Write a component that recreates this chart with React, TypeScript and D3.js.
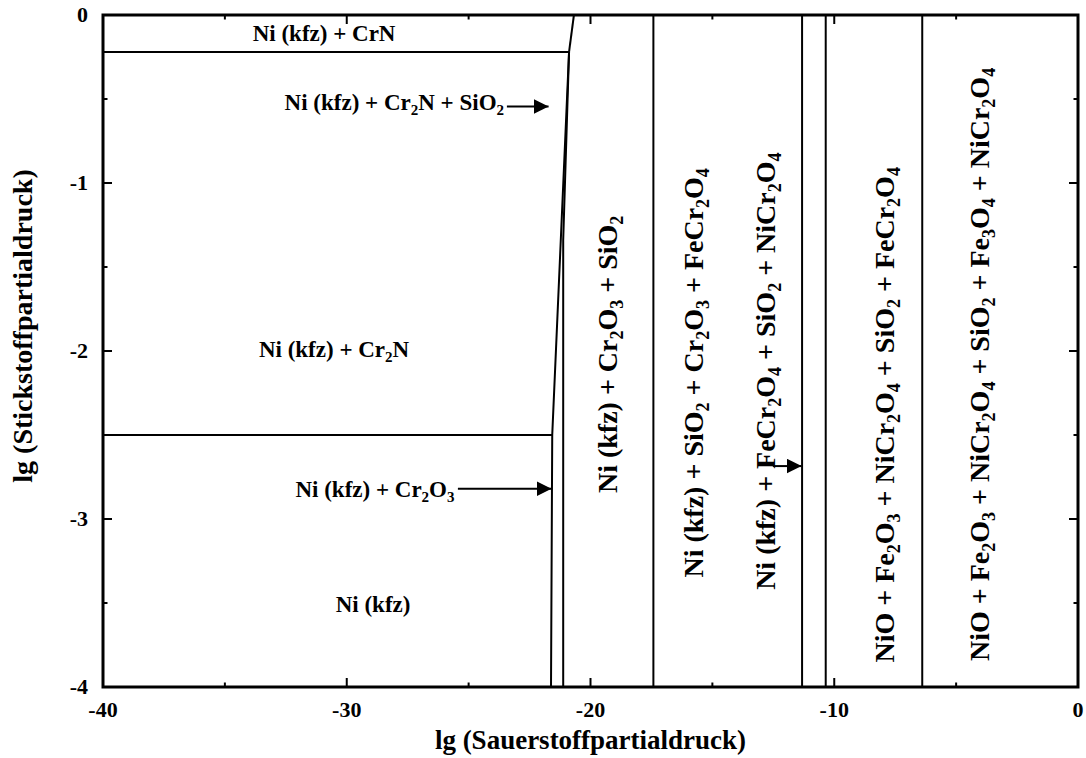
import React from "react";
import * as d3 from "d3";

const W = 1086;
const H = 758;

// Axes
const xDomain: [number, number] = [-40, 0];
const yDomain: [number, number] = [-4, 0];
const xMajorTicks = [-40, -30, -20, -10, 0];
const xMinorTicks = [-35, -25, -15, -5];
const yMajorTicks = [0, -1, -2, -3, -4];
const yMinorTicks = [-0.5, -1.5, -2.5, -3.5];

// Phase boundaries (lg pO2, lg pN2)
const boundaryTop: [number, number][] = [[-20.68, 0], [-20.88, -0.22]];
const boundaryCrN: [number, number][] = [[-40, -0.22], [-20.88, -0.22]];
const boundaryLeft: [number, number][] = [[-20.88, -0.22], [-21.57, -2.5], [-21.62, -4]];
const boundaryRight: [number, number][] = [[-20.88, -0.22], [-21.12, -1.34], [-21.12, -4]];
const boundaryCr2O3: [number, number][] = [[-40, -2.5], [-21.57, -2.5]];
const verticalBoundaries = [-17.42, -11.32, -10.35, -6.39];

// Region labels (text with _n for subscripts), positions in data units
const horizLabels = [
  { text: "Ni (kfz) + CrN", x: -30.93, y: -0.155, anchor: "middle" },
  { text: "Ni (kfz) + Cr_2N + SiO_2", x: -32.55, y: -0.565, anchor: "start" },
  { text: "Ni (kfz) + Cr_2N", x: -30.52, y: -2.036, anchor: "middle" },
  { text: "Ni (kfz) + Cr_2O_3", x: -25.58, y: -2.87, anchor: "end" },
  { text: "Ni (kfz)", x: -28.92, y: -3.554, anchor: "middle" },
];
const vertLabels = [
  { text: "Ni (kfz) + Cr_2O_3 + SiO_2", x: -19.33, y: -2.02 },
  { text: "Ni (kfz) + SiO_2 + Cr_2O_3 + FeCr_2O_4", x: -15.8, y: -2.13 },
  { text: "Ni (kfz) + FeCr_2O_4 + SiO_2 + NiCr_2O_4", x: -12.85, y: -2.12 },
  { text: "NiO + Fe_2O_3 + NiCr_2O_4 + SiO_2 + FeCr_2O_4", x: -7.95, y: -2.38 },
  { text: "NiO + Fe_2O_3 + NiCr_2O_4 + SiO_2 + Fe_3O_4 + NiCr_2O_4", x: -4.05, y: -2.08 },
];
const arrows = [
  { x1: -23.43, x2: -21.72, y: -0.545 },
  { x1: -25.44, x2: -21.6, y: -2.82 },
  { x1: -12.52, x2: -11.34, y: -2.685 },
];

const FONT = "Liberation Serif, Tinos, DejaVu Serif, serif";

function rich(str: string, size: number) {
  const parts = str.split(/_(\d)/);
  const out: React.ReactNode[] = [];
  const sub = Math.round(size * 0.65);
  const shift = Math.round(size * 0.22);
  parts.forEach((p, i) => {
    if (i % 2 === 1) {
      out.push(
        <tspan key={i} fontSize={sub} dy={shift}>
          {p}
        </tspan>
      );
    } else if (p.length) {
      out.push(
        <tspan key={i} dy={i === 0 ? 0 : -shift}>
          {p}
        </tspan>
      );
    }
  });
  return out;
}

export default function App() {
  const x = d3.scaleLinear().domain(xDomain).range([103, 1078]);
  const y = d3.scaleLinear().domain(yDomain).range([687, 15]);
  const line = d3
    .line<[number, number]>()
    .x((d) => x(d[0]))
    .y((d) => y(d[1]));

  const boundaries = [boundaryTop, boundaryCrN, boundaryLeft, boundaryRight, boundaryCr2O3];
  const x0 = x(xDomain[0]);
  const x1 = x(xDomain[1]);
  const y0 = y(yDomain[0]);
  const y1 = y(yDomain[1]);
  const major = 9;
  const minor = 4.5;
  const labelSize = 23;
  const vSize = 28;
  const textStyle = { fontFamily: FONT, fontWeight: 700 } as React.CSSProperties;

  return (
    <svg
      width={W}
      height={H}
      style={{ position: "absolute", left: 0, top: 0, background: "#fff" }}
    >
      <defs>
        <marker
          id="arrow"
          markerUnits="userSpaceOnUse"
          markerWidth={16}
          markerHeight={16}
          refX={15}
          refY={7.5}
          orient="auto"
        >
          <path d="M0,0 L15,7.5 L0,15 Z" fill="#000" />
        </marker>
      </defs>

      {/* boundaries */}
      {boundaries.map((b, i) => (
        <path key={i} d={line(b) || ""} fill="none" stroke="#000" strokeWidth={2} />
      ))}
      {verticalBoundaries.map((v, i) => (
        <line key={i} x1={x(v)} x2={x(v)} y1={y0} y2={y1} stroke="#000" strokeWidth={2} />
      ))}

      {/* arrows */}
      {arrows.map((a, i) => (
        <line
          key={i}
          x1={x(a.x1)}
          x2={x(a.x2)}
          y1={y(a.y)}
          y2={y(a.y)}
          stroke="#000"
          strokeWidth={2}
          markerEnd="url(#arrow)"
        />
      ))}

      {/* ticks */}
      {xMajorTicks.map((t) => (
        <g key={"xm" + t}>
          <line x1={x(t)} x2={x(t)} y1={y0} y2={y0 - major} stroke="#000" strokeWidth={2} />
          <line x1={x(t)} x2={x(t)} y1={y1} y2={y1 + major} stroke="#000" strokeWidth={2} />
          <text x={x(t)} y={y0 + 30} textAnchor="middle" fontSize={22} style={textStyle}>
            {t}
          </text>
        </g>
      ))}
      {xMinorTicks.map((t) => (
        <g key={"xn" + t}>
          <line x1={x(t)} x2={x(t)} y1={y0} y2={y0 - minor} stroke="#000" strokeWidth={2} />
          <line x1={x(t)} x2={x(t)} y1={y1} y2={y1 + minor} stroke="#000" strokeWidth={2} />
        </g>
      ))}
      {yMajorTicks.map((t) => (
        <g key={"ym" + t}>
          <line x1={x0} x2={x0 + major} y1={y(t)} y2={y(t)} stroke="#000" strokeWidth={2} />
          <line x1={x1} x2={x1 - major} y1={y(t)} y2={y(t)} stroke="#000" strokeWidth={2} />
          <text x={88} y={y(t) + 7} textAnchor="end" fontSize={22} style={textStyle}>
            {t}
          </text>
        </g>
      ))}
      {yMinorTicks.map((t) => (
        <g key={"yn" + t}>
          <line x1={x0} x2={x0 + minor} y1={y(t)} y2={y(t)} stroke="#000" strokeWidth={2} />
          <line x1={x1} x2={x1 - minor} y1={y(t)} y2={y(t)} stroke="#000" strokeWidth={2} />
        </g>
      ))}

      {/* frame */}
      <rect x={x0} y={y1} width={x1 - x0} height={y0 - y1} fill="none" stroke="#000" strokeWidth={3} />

      {/* region labels */}
      {horizLabels.map((l, i) => (
        <text key={i} x={x(l.x)} y={y(l.y)} textAnchor={l.anchor as any} fontSize={labelSize} style={textStyle}>
          {rich(l.text, labelSize)}
        </text>
      ))}
      {vertLabels.map((l, i) => (
        <text
          key={i}
          transform={`translate(${x(l.x) + 10},${y(l.y)}) rotate(-90)`}
          textAnchor="middle"
          fontSize={vSize}
          style={textStyle}
        >
          {rich(l.text, vSize)}
        </text>
      ))}

      {/* axis titles */}
      <text x={(x0 + x1) / 2} y={749} textAnchor="middle" fontSize={27} style={textStyle}>
        lg (Sauerstoffpartialdruck)
      </text>
      <text
        transform={`translate(32,326) rotate(-90)`}
        textAnchor="middle"
        fontSize={28}
        style={textStyle}
      >
        lg (Stickstoffpartialdruck)
      </text>
    </svg>
  );
}
